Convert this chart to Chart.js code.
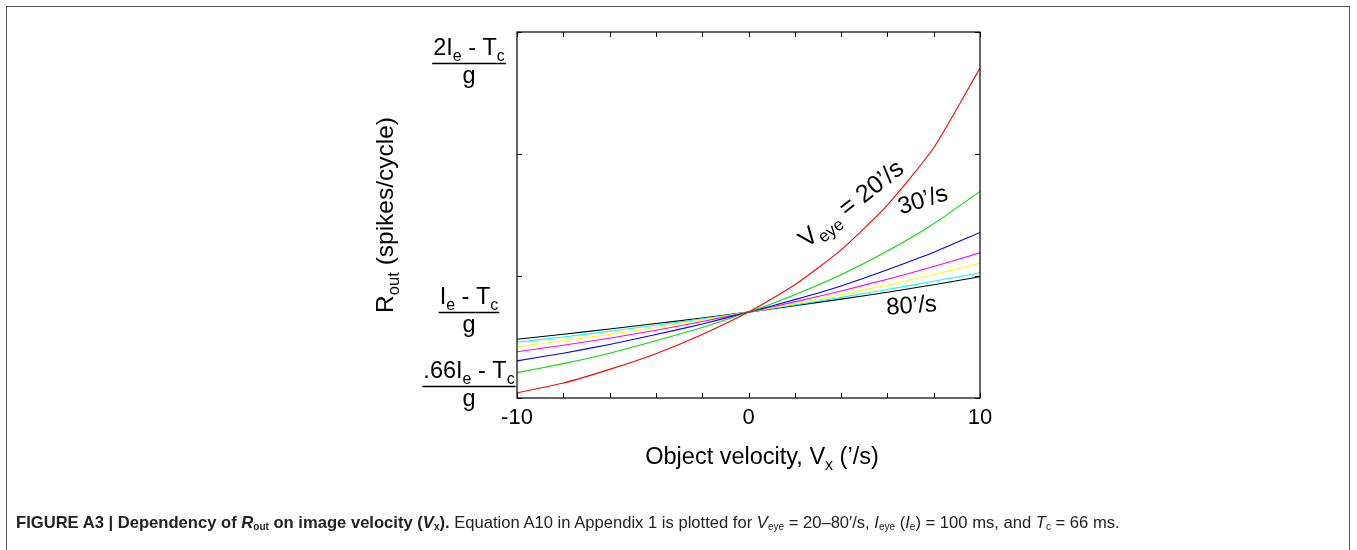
<!DOCTYPE html>
<html>
<head>
<meta charset="utf-8">
<script src="https://cdn.jsdelivr.net/npm/chart.js@4.4.1/dist/chart.umd.min.js"></script>
<style>
  body { margin: 0; background: #fff; }
  #wrap { position: relative; width: 1357px; height: 550px; overflow: hidden; }
  #frame { position: absolute; left: 6px; top: 6px; width: 1344px; height: 600px; border: 1px solid #555; box-sizing: border-box; }
  #caption { position: absolute; left: 16px; top: 513px; font-family: "Liberation Sans Narrow", "Liberation Sans", Arial, sans-serif; font-size: 16.6px; color: #222; white-space: nowrap; }
  #caption sub { font-size: 10px; vertical-align: -2px; }
</style>
</head>
<body>
<div id="wrap">
  <div id="frame"></div>
  <canvas id="rout-chart" width="1357" height="550"></canvas>
  <div id="caption"><b>FIGURE A3 | Dependency of <i>R</i><sub>out</sub> on image velocity (<i>V</i><sub>x</sub>).</b> Equation A10 in Appendix 1 is plotted for <i>V</i><sub>eye</sub> = 20–80′/s, <i>I</i><sub>eye</sub> (<i>I</i><sub>e</sub>) = 100 ms, and <i>T</i><sub>c</sub> = 66 ms.</div>
</div>
<script>
// Rout vs object velocity //

const vx = [-10, -8, -6, -4, -2, 0, 2, 4, 6, 8, 10];
const r20 = [1.6, 5.5, 11, 17.3, 25, 34, 45, 59, 77, 100, 132];
const r30 = [9.7, 13.3, 17.5, 22.5, 27.8, 34, 41, 49, 58.5, 69.5, 82.5];
const r40 = [14.4, 17.5, 21, 25, 29.2, 34, 39, 44.5, 51, 58, 66];
const r50 = [18.1, 20.7, 23.5, 26.7, 30.2, 34, 38.1, 42.5, 47.2, 52.3, 57.8];
const r60 = [20.1, 22.5, 25, 27.8, 30.8, 34, 37.4, 41, 44.9, 49.1, 53.6];
const r70 = [21.9, 24, 26.3, 28.7, 31.3, 34, 36.9, 39.9, 43.1, 46.4, 49.8];
const r80 = [23.1, 25.1, 27.2, 29.4, 31.6, 34, 36.6, 39.2, 42, 45, 48.2];
const seriesNames = ["20", "30", "40", "50", "60", "70", "80"];
const seriesColors = ['#ff0000', '#00e000', '#0000ff', '#ff00ff', '#ffff00', '#00ffff', '#000000'];

const xTicks = [-10, -8, -6, -4, -2, 0, 2, 4, 6, 8, 10];
const xTickLabels = ["-10", "", "", "", "", "0", "", "", "", "", "10"];
const yTicks = [-0.5, 48.5, 97.5, 146.5];
const yLabelNums = ["2I_e - T_c", "I_e - T_c", ".66I_e - T_c"];
const yLabelAt = [134, 34, 0];

const FONT = '"Liberation Sans", Arial, sans-serif';

// split "I_e - T_c" into normal / subscript pieces
function parts(s) {
  return s.split(/(_[a-z]+)/).filter(p => p).map(p => p[0] === '_' ? [p.slice(1), true] : [p, false]);
}

function textWidth(ctx, s, size) {
  let w = 0;
  parts(s).forEach(([t, sub]) => {
    ctx.font = (sub ? size * 0.68 : size) + 'px ' + FONT;
    w += ctx.measureText(t).width;
  });
  return w;
}

function drawText(ctx, s, x, y, size, align) {
  let w = textWidth(ctx, s, size);
  let cx = align === 'center' ? x - w / 2 : x;
  ctx.textAlign = 'left';
  ctx.textBaseline = 'alphabetic';
  parts(s).forEach(([t, sub]) => {
    ctx.font = (sub ? size * 0.68 : size) + 'px ' + FONT;
    ctx.fillText(t, cx, sub ? y + size * 0.25 : y);
    cx += ctx.measureText(t).width;
  });
}

const axesPlugin = {
  id: 'axesPlugin',
  afterDatasetsDraw(chart) {
    const ctx = chart.ctx;
    const a = chart.chartArea;
    const xs = chart.scales.x, ys = chart.scales.y;
    ctx.save();
    ctx.strokeStyle = '#000';
    ctx.lineWidth = 1.2;
    ctx.strokeRect(a.left, a.top, a.right - a.left, a.bottom - a.top);

    ctx.lineWidth = 1;
    xTicks.forEach(v => {
      const px = Math.round(xs.getPixelForValue(v)) + 0.5;
      ctx.beginPath();
      ctx.moveTo(px, a.bottom); ctx.lineTo(px, a.bottom - 5);
      ctx.moveTo(px, a.top); ctx.lineTo(px, a.top + 5);
      ctx.stroke();
    });
    yTicks.forEach(v => {
      const py = Math.round(ys.getPixelForValue(v)) + 0.5;
      ctx.beginPath();
      ctx.moveTo(a.left, py); ctx.lineTo(a.left + 5, py);
      ctx.moveTo(a.right, py); ctx.lineTo(a.right - 5, py);
      ctx.stroke();
    });

    ctx.fillStyle = '#000';
    xTicks.forEach((v, i) => {
      if (xTickLabels[i]) drawText(ctx, xTickLabels[i], xs.getPixelForValue(v), 424, 22, 'center');
    });
    drawText(ctx, 'Object velocity, V_x (’/s)', 762, 464, 23.5, 'center');

    // fraction tick labels
    yLabelNums.forEach((num, i) => {
      const bar = Math.min(ys.getPixelForValue(yLabelAt[i]), a.bottom - 12);
      const cx = 469;
      const w = textWidth(ctx, num, 23.5);
      drawText(ctx, num, cx, bar - 8, 23.5, 'center');
      ctx.beginPath();
      ctx.lineWidth = 1.5;
      ctx.moveTo(cx - w / 2 - 1, Math.round(bar) + 0.5);
      ctx.lineTo(cx + w / 2 + 1, Math.round(bar) + 0.5);
      ctx.stroke();
      drawText(ctx, 'g', cx, bar + 20, 23.5, 'center');
    });

    // y title
    ctx.save();
    ctx.translate(393, 215);
    ctx.rotate(-Math.PI / 2);
    drawText(ctx, 'R_out (spikes/cycle)', 0, 0, 24.5, 'center');
    ctx.restore();

    // curve annotations
    const notes = [
      ['V_eye = 20’/s', 856, 210, -38, 25],
      ['30’/s', 925, 207, -17, 24],
      ['80’/s', 912, 313, -4, 24]
    ];
    notes.forEach(([t, x, y, ang, size]) => {
      ctx.save();
      ctx.translate(x, y);
      ctx.rotate(ang * Math.PI / 180);
      drawText(ctx, t, 0, 0, size, 'center');
      ctx.restore();
    });
    ctx.restore();
  }
};

const seriesValues = [r20, r30, r40, r50, r60, r70, r80];

const routCanvas = document.querySelector('#rout-chart');

let routChart = new Chart(routCanvas, {
  type: 'line',
  data: {
    datasets: seriesValues.map((vals, i) => ({
      label: seriesNames[i],
      data: vals.map((v, j) => ({ x: vx[j], y: v })),
      borderColor: seriesColors[i],
      borderWidth: 1.1,
      pointRadius: 0,
      tension: 0.2,
      fill: false
    }))
  },
  options: {
    responsive: false,
    animation: false,
    layout: { padding: { left: 517, right: 377, top: 32, bottom: 152 } },
    scales: {
      x: { type: 'linear', min: -10, max: 10, display: false },
      y: { min: -0.5, max: 146.5, display: false }
    },
    plugins: {
      legend: { display: false },
      tooltip: { enabled: false }
    }
  },
  plugins: [axesPlugin]
});
</script>
</body>
</html>
